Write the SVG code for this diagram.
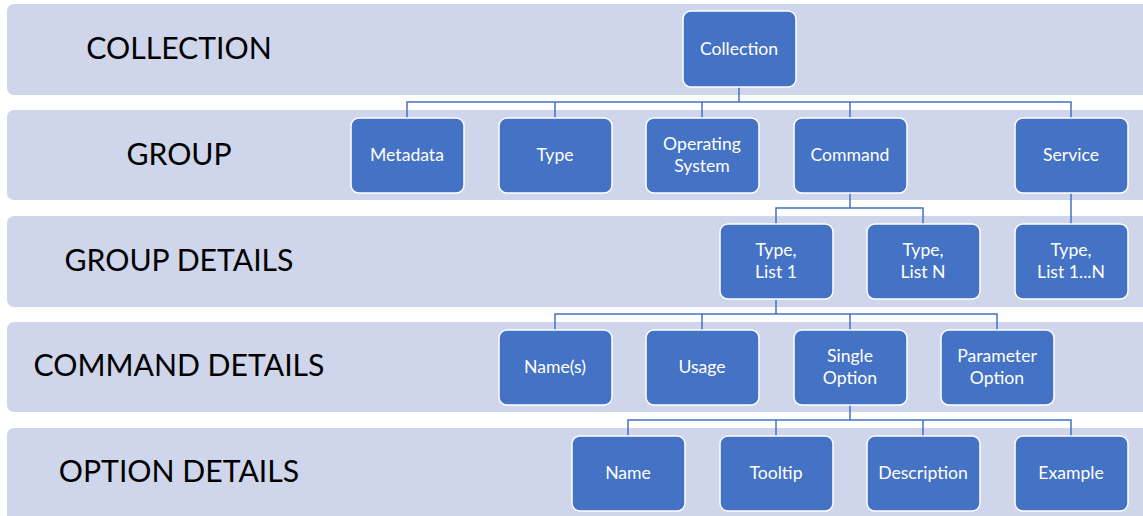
<svg xmlns="http://www.w3.org/2000/svg" width="1143" height="516" viewBox="0 0 1143 516">
<style>
.band{fill:#CFD5EA}
.lbl{font-family:Lato,"Open Sans",sans-serif;font-size:30.2px;fill:#000;text-anchor:middle}
.node rect{fill:#4472C4;stroke:#FFFFFF;stroke-width:1.5}
.node text{font-family:Lato,"Open Sans",sans-serif;font-size:17.6px;fill:#FFFFFF;text-anchor:middle}
.conn{fill:none;stroke:#4472C4;stroke-width:1.5}
</style>
<rect width="1143" height="516" fill="#FFFFFF"/>
<g id="bands">
<rect class="band" x="7" y="4" width="1150" height="91" rx="7"/>
<rect class="band" x="7" y="110" width="1150" height="90" rx="7"/>
<rect class="band" x="7" y="216" width="1150" height="91" rx="7"/>
<rect class="band" x="7" y="322" width="1150" height="90" rx="7"/>
<rect class="band" x="7" y="428" width="1150" height="100" rx="7"/>
<text class="lbl" x="179" y="59">COLLECTION</text>
<text class="lbl" x="179" y="165">GROUP</text>
<text class="lbl" x="179" y="271">GROUP DETAILS</text>
<text class="lbl" x="179" y="376">COMMAND DETAILS</text>
<text class="lbl" x="179" y="482">OPTION DETAILS</text>
</g>
<g id="connectors">
<path class="conn" d="M739,87 V102 M407,118 V102 H1071 V118 M555,102 V118 M702,102 V118 M850,102 V118"/>
<path class="conn" d="M850,192 V208 M776,224 V208 H923 V224 M1071,192 V224"/>
<path class="conn" d="M776,299 V314 M555,330 V314 H997 V330 M702,314 V330 M850,314 V330"/>
<path class="conn" d="M850,404 V420 M628,436 V420 H1071 V436 M776,420 V436 M923,420 V436"/>
</g>
<g id="n-collection" class="node"><rect x="683" y="11" width="113" height="76" rx="8"/><text x="739" y="55">Collection</text></g>
<g id="n-metadata" class="node"><rect x="351" y="118" width="113" height="75" rx="8"/><text x="407" y="161">Metadata</text></g>
<g id="n-type" class="node"><rect x="499" y="118" width="113" height="75" rx="8"/><text x="555" y="161">Type</text></g>
<g id="n-os" class="node"><rect x="646" y="118" width="113" height="75" rx="8"/><text x="702" y="150">Operating</text><text x="702" y="172">System</text></g>
<g id="n-command" class="node"><rect x="794" y="118" width="113" height="75" rx="8"/><text x="850" y="161">Command</text></g>
<g id="n-service" class="node"><rect x="1015" y="118" width="113" height="75" rx="8"/><text x="1071" y="161">Service</text></g>
<g id="n-typelist1" class="node"><rect x="720" y="224" width="113" height="75" rx="8"/><text x="776" y="256">Type,</text><text x="776" y="278">List 1</text></g>
<g id="n-typelistn" class="node"><rect x="867" y="224" width="113" height="75" rx="8"/><text x="923" y="256">Type,</text><text x="923" y="278">List N</text></g>
<g id="n-typelist1n" class="node"><rect x="1015" y="224" width="113" height="75" rx="8"/><text x="1071" y="256">Type,</text><text x="1071" y="278">List 1...N</text></g>
<g id="n-names" class="node"><rect x="499" y="330" width="113" height="75" rx="8"/><text x="555" y="373">Name(s)</text></g>
<g id="n-usage" class="node"><rect x="646" y="330" width="113" height="75" rx="8"/><text x="702" y="373">Usage</text></g>
<g id="n-single" class="node"><rect x="794" y="330" width="113" height="75" rx="8"/><text x="850" y="362">Single</text><text x="850" y="384">Option</text></g>
<g id="n-param" class="node"><rect x="941" y="330" width="113" height="75" rx="8"/><text x="997" y="362">Parameter</text><text x="997" y="384">Option</text></g>
<g id="n-name" class="node"><rect x="572" y="436" width="113" height="75" rx="8"/><text x="628" y="479">Name</text></g>
<g id="n-tooltip" class="node"><rect x="720" y="436" width="113" height="75" rx="8"/><text x="776" y="479">Tooltip</text></g>
<g id="n-description" class="node"><rect x="867" y="436" width="113" height="75" rx="8"/><text x="923" y="479">Description</text></g>
<g id="n-example" class="node"><rect x="1015" y="436" width="113" height="75" rx="8"/><text x="1071" y="479">Example</text></g>
</svg>
